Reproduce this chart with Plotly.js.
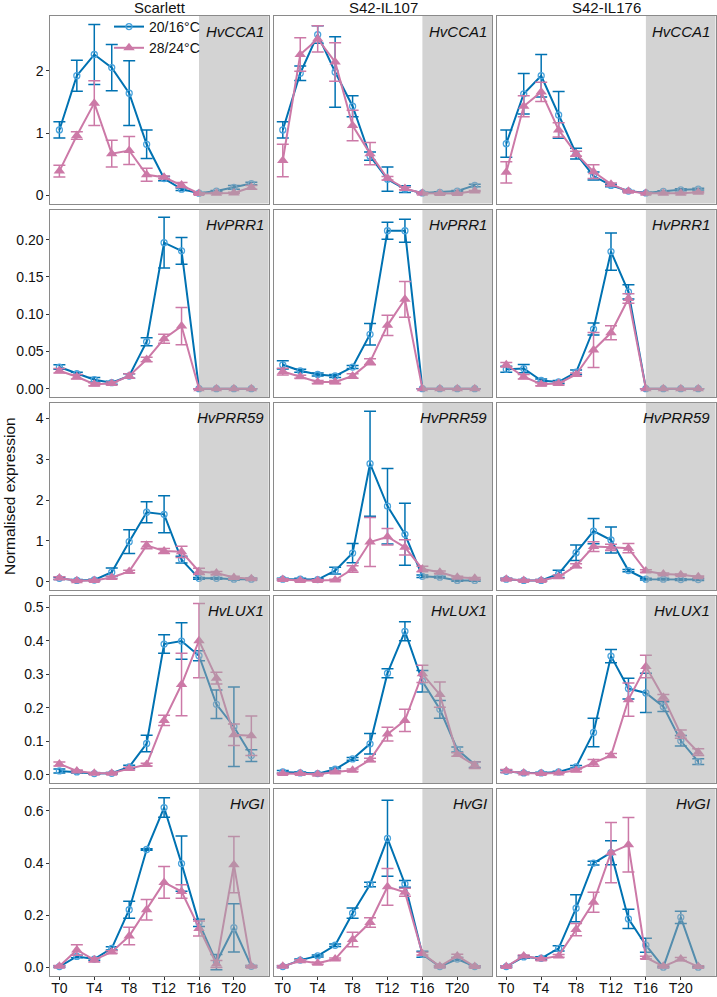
<!DOCTYPE html>
<html><head><meta charset="utf-8">
<script src="https://cdn.plot.ly/plotly-3.0.1.min.js"></script>
<style>html,body{margin:0;padding:0;background:#fff}</style>
</head><body>
<div id="chart" style="width:717px;height:997px"></div>
<script>
// ---------- DATA ----------
const timePoints = [0,2,4,6,8,10,12,14,16,18,20,22];
const tickVals = [0,4,8,12,16,20];
const tickLabels = ['T0','T4','T8','T12','T16','T20'];
const genotypes = ['Scarlett','S42-IL107','S42-IL176'];
const genes = ['HvCCA1','HvPRR1','HvPRR59','HvLUX1','HvGI'];
const temps = ['20/16°C','28/24°C'];
const darkStart = 16;

// each: [Scarlett, S42-IL107, S42-IL176]
const CCA1_20 = [
  [1.05,1.92,2.26,2.05,1.64,0.82,0.27,0.10,0.035,0.07,0.13,0.19],
  [1.05,1.96,2.58,1.98,1.43,0.63,0.26,0.10,0.04,0.05,0.07,0.16],
  [0.83,1.63,1.92,1.29,0.67,0.31,0.16,0.07,0.04,0.065,0.09,0.10]];
const CCA1_20_se = [
  [0.13,0.25,0.48,0.37,0.52,0.23,0.035,0.02,0.01,0.01,0.03,0.02],
  [0.13,0.115,0.14,0.565,0.17,0.065,0.195,0.055,0.01,0.01,0.01,0.02],
  [0.22,0.325,0.34,0.375,0.085,0.065,0.02,0.01,0.01,0.01,0.015,0.015]];
const CCA1_28 = [
  [0.39,0.96,1.48,0.67,0.72,0.33,0.29,0.165,0.03,0.035,0.04,0.13],
  [0.56,2.26,2.51,2.14,1.12,0.67,0.275,0.11,0.035,0.03,0.03,0.07],
  [0.37,1.43,1.66,1.05,0.67,0.38,0.18,0.065,0.035,0.035,0.035,0.05]];
const CCA1_28_se = [
  [0.095,0.06,0.36,0.215,0.225,0.105,0.02,0.04,0.01,0.01,0.01,0.03],
  [0.26,0.27,0.21,0.31,0.245,0.18,0.03,0.02,0.01,0.01,0.01,0.01],
  [0.17,0.17,0.155,0.115,0.04,0.11,0.02,0.01,0.01,0.01,0.01,0.01]];

const PRR1_20 = [
  [0.029,0.020,0.012,0.008,0.017,0.063,0.196,0.185,0,0,0,0],
  [0.032,0.024,0.019,0.017,0.029,0.073,0.212,0.212,0,0,0,0],
  [0.026,0.027,0.011,0.009,0.022,0.080,0.184,0.130,0,0,0,0]];
const PRR1_20_se = [
  [0.003,0.002,0.003,0.002,0.003,0.0055,0.034,0.018,0,0,0,0],
  [0.0055,0.002,0.002,0.002,0.002,0.0145,0.0115,0.0155,0,0,0,0],
  [0.004,0.0055,0.002,0.002,0.003,0.008,0.025,0.0095,0,0,0,0]];
const PRR1_28 = [
  [0.024,0.016,0.006,0.007,0.017,0.039,0.067,0.084,0,0,0,0],
  [0.023,0.016,0.009,0.009,0.017,0.036,0.085,0.120,0,0,0,0],
  [0.032,0.016,0.006,0.007,0.019,0.052,0.075,0.121,0,0,0,0]];
const PRR1_28_se = [
  [0.003,0.003,0.002,0.002,0.003,0.003,0.006,0.025,0,0,0,0],
  [0.0045,0.002,0.002,0.002,0.003,0.004,0.0135,0.024,0,0,0,0],
  [0.003,0.003,0.002,0.002,0.002,0.0235,0.0095,0.0065,0,0,0,0]];

const PRR59_20 = [
  [0.08,0.03,0.04,0.23,0.98,1.70,1.65,0.54,0.08,0.08,0.06,0.06],
  [0.06,0.06,0.05,0.27,0.70,2.89,1.85,1.16,0.13,0.11,0.03,0.03],
  [0.06,0.03,0.03,0.19,0.71,1.24,1.02,0.27,0.06,0.06,0.05,0.05]];
const PRR59_20_se = [
  [0.03,0.02,0.02,0.105,0.29,0.255,0.455,0.085,0.02,0.02,0.02,0.02],
  [0.02,0.02,0.02,0.08,0.235,1.285,0.925,0.76,0.03,0.02,0.02,0.02],
  [0.02,0.02,0.02,0.09,0.19,0.31,0.32,0.03,0.02,0.02,0.02,0.02]];
const PRR59_28 = [
  [0.09,0.02,0.03,0.10,0.25,0.89,0.75,0.73,0.25,0.21,0.10,0.07],
  [0.05,0.03,0.03,0.04,0.31,0.97,1.10,0.84,0.31,0.23,0.11,0.08],
  [0.06,0.03,0.03,0.12,0.39,0.86,0.84,0.82,0.26,0.19,0.17,0.12]];
const PRR59_28_se = [
  [0.03,0.02,0.02,0.03,0.03,0.085,0.06,0.14,0.075,0.04,0.03,0.02],
  [0.02,0.02,0.02,0.02,0.08,0.60,0.20,0.185,0.07,0.03,0.02,0.02],
  [0.02,0.02,0.02,0.04,0.05,0.12,0.075,0.115,0.03,0.02,0.02,0.02]];

const LUX1_20 = [
  [0.011,0.008,0.003,0.004,0.023,0.093,0.390,0.399,0.355,0.210,0.143,0.057],
  [0.008,0.005,0.003,0.016,0.047,0.092,0.303,0.428,0.279,0.195,0.075,0.030],
  [0.010,0.005,0.005,0.008,0.023,0.126,0.354,0.257,0.244,0.203,0.101,0.039]];
const LUX1_20_se = [
  [0.006,0.003,0.002,0.002,0.005,0.0245,0.0275,0.0545,0.015,0.0425,0.1185,0.0175],
  [0.004,0.003,0.002,0.004,0.004,0.0305,0.0135,0.0285,0.032,0.0265,0.0075,0.0085],
  [0.004,0.002,0.002,0.002,0.004,0.0425,0.020,0.031,0.0585,0.0145,0.0155,0.0085]];
const LUX1_28 = [
  [0.032,0.011,0.004,0.004,0.018,0.030,0.162,0.269,0.400,0.288,0.119,0.116],
  [0.003,0.003,0.001,0.008,0.013,0.044,0.121,0.162,0.301,0.239,0.060,0.028],
  [0.011,0.005,0.003,0.005,0.013,0.035,0.057,0.224,0.323,0.231,0.121,0.067]];
const LUX1_28_se = [
  [0.006,0.003,0.002,0.002,0.004,0.004,0.0155,0.0935,0.111,0.0175,0.032,0.059],
  [0.002,0.002,0.002,0.003,0.004,0.005,0.0205,0.033,0.026,0.0375,0.005,0.010],
  [0.004,0.002,0.002,0.002,0.004,0.010,0.006,0.0495,0.0335,0.0085,0.012,0.010]];

const GI_20 = [
  [0.003,0.042,0.032,0.073,0.221,0.452,0.613,0.398,0.171,0.020,0.152,0.004],
  [0.003,0.028,0.044,0.085,0.208,0.318,0.495,0.320,0.050,0.003,0.032,0.003],
  [0.003,0.040,0.035,0.073,0.227,0.400,0.440,0.186,0.085,0.001,0.192,0.001]];
const GI_20_se = [
  [0.003,0.005,0.005,0.006,0.033,0.003,0.0375,0.106,0.014,0.029,0.0925,0.003],
  [0.003,0.004,0.004,0.005,0.020,0.0085,0.1455,0.013,0.0115,0.003,0.006,0.003],
  [0.003,0.005,0.006,0.010,0.052,0.0075,0.046,0.0365,0.027,0.002,0.0235,0.002]];
const GI_28 = [
  [0.004,0.067,0.029,0.059,0.120,0.221,0.326,0.291,0.149,0.013,0.394,0.004],
  [0.004,0.025,0.016,0.032,0.107,0.172,0.309,0.288,0.053,0.004,0.044,0.003],
  [0.003,0.044,0.032,0.044,0.145,0.250,0.440,0.470,0.038,0.004,0.032,0.003]];
const GI_28_se = [
  [0.003,0.020,0.008,0.005,0.0335,0.039,0.061,0.0255,0.0285,0.013,0.1075,0.003],
  [0.003,0.004,0.004,0.004,0.0275,0.0185,0.0705,0.0155,0.005,0.003,0.006,0.003],
  [0.003,0.004,0.005,0.005,0.0235,0.0385,0.1155,0.1045,0.005,0.003,0.006,0.003]];

const means20 = [CCA1_20, PRR1_20, PRR59_20, LUX1_20, GI_20];
const se20    = [CCA1_20_se, PRR1_20_se, PRR59_20_se, LUX1_20_se, GI_20_se];
const means28 = [CCA1_28, PRR1_28, PRR59_28, LUX1_28, GI_28];
const se28    = [CCA1_28_se, PRR1_28_se, PRR59_28_se, LUX1_28_se, GI_28_se];

// ---------- STYLE / LAYOUT ----------
const W = 717, H = 997;
const colL = [50.4, 273.8, 497.3], colW = 218.4;
const rowT = [16, 209.5, 402.5, 595.5, 788.5], rowH = 187.5;
const xRange = [-1.03, 24.0];
const yRanges = [[-0.13, 2.878], [-0.0112, 0.2405], [-0.205, 4.39], [-0.025, 0.535], [-0.033, 0.686]];
const yTicks = [[0,1,2], [0,0.05,0.10,0.15,0.20], [0,1,2,3,4], [0,0.1,0.2,0.3,0.4,0.5], [0,0.2,0.4,0.6]];
const yFormats = ['d', '.2f', 'd', '.1f', '.1f'];
const blue = '#0072B2', blueMarker = '#4aa3dc', pink = '#CC79A7';
const FONT = 'Liberation Sans, Arial, sans-serif';
const borderCol = '#8a8a8a';

const traces = [];
const layout = {
  width: W, height: H,
  margin: {l:0, r:0, t:0, b:0},
  paper_bgcolor: '#fff', plot_bgcolor: '#fff',
  font: {family: FONT, size: 14, color: '#111'},
  showlegend: true,
  legend: {x: 109/W, y: 1 - 11/H, xanchor: 'left', yanchor: 'top',
           bgcolor: 'rgba(0,0,0,0)', font: {size: 14, family: FONT, color: '#111'},
           itemwidth: 30, tracegroupgap: 0},
  shapes: [], annotations: []
};

for (let r = 0; r < 5; r++) {
  for (let c = 0; c < 3; c++) {
    const k = r*3 + c + 1;
    const xa = 'xaxis' + (k === 1 ? '' : k), ya = 'yaxis' + (k === 1 ? '' : k);
    const xs = 'x' + (k === 1 ? '' : k), ys = 'y' + (k === 1 ? '' : k);
    layout[xa] = {
      domain: [colL[c]/W, (colL[c]+colW)/W], anchor: ys, range: xRange,
      showgrid: false, zeroline: false, showline: true, mirror: true,
      linecolor: borderCol, linewidth: 1,
      tickvals: tickVals, ticktext: tickLabels,
      showticklabels: r === 4, ticks: r === 4 ? 'outside' : '',
      ticklen: 3, tickcolor: '#333', tickfont: {size: 14, color: '#111'},
      ticklabelstandoff: -4
    };
    layout[ya] = {
      domain: [1 - (rowT[r]+rowH)/H, 1 - rowT[r]/H], anchor: xs, range: yRanges[r],
      showgrid: false, zeroline: false, showline: true, mirror: true,
      linecolor: borderCol, linewidth: 1,
      tickvals: yTicks[r], tickformat: yFormats[r],
      showticklabels: c === 0, ticks: c === 0 ? 'outside' : '',
      ticklen: 3, tickcolor: '#333', tickfont: {size: 14, color: '#111'}
    };
    traces.push({
      type: 'scatter', mode: 'lines+markers', xaxis: xs, yaxis: ys,
      x: timePoints, y: means20[r][c], name: temps[0], legendgroup: 't20',
      showlegend: k === 1,
      line: {color: blue, width: 2},
      marker: {symbol: 'circle-open', size: 6, color: blueMarker, line: {width: 1.3, color: blueMarker}},
      error_y: {type: 'data', array: se20[r][c], visible: true, color: blue, thickness: 1.5, width: 6}
    });
    traces.push({
      type: 'scatter', mode: 'lines+markers', xaxis: xs, yaxis: ys,
      x: timePoints, y: means28[r][c], name: temps[1], legendgroup: 't28',
      showlegend: k === 1,
      line: {color: pink, width: 2},
      marker: {symbol: 'triangle-up', size: 10, color: pink},
      error_y: {type: 'data', array: se28[r][c], visible: true, color: pink, thickness: 1.5, width: 6}
    });
    layout.shapes.push({
      type: 'rect', xref: xs, yref: ys + ' domain', x0: darkStart, x1: xRange[1], y0: 0, y1: 1,
      fillcolor: 'rgb(167,167,167)', opacity: 0.5, line: {width: 0}, layer: 'above'
    });
    layout.annotations.push({
      xref: xs + ' domain', yref: ys + ' domain', x: 0.985, y: 0.975,
      xanchor: 'right', yanchor: 'top', showarrow: false,
      text: '<i>' + genes[r] + '</i>', font: {size: 15, family: FONT, color: '#111'}
    });
    if (r === 0) {
      layout.annotations.push({
        xref: 'paper', yref: 'paper', x: (colL[c] + colW/2)/W, y: 1 - 8/H,
        xanchor: 'center', yanchor: 'middle', showarrow: false,
        text: genotypes[c], font: {size: 15, family: FONT, color: '#111'}
      });
    }
  }
}
layout.annotations.push({
  xref: 'paper', yref: 'paper', x: 10/W, y: 1 - 496/H, textangle: -90,
  xanchor: 'center', yanchor: 'middle', showarrow: false,
  text: 'Normalised expression', font: {size: 15.5, family: FONT, color: '#111'}
});

Plotly.newPlot('chart', traces, layout, {staticPlot: true, displayModeBar: false});
</script>
</body></html>
